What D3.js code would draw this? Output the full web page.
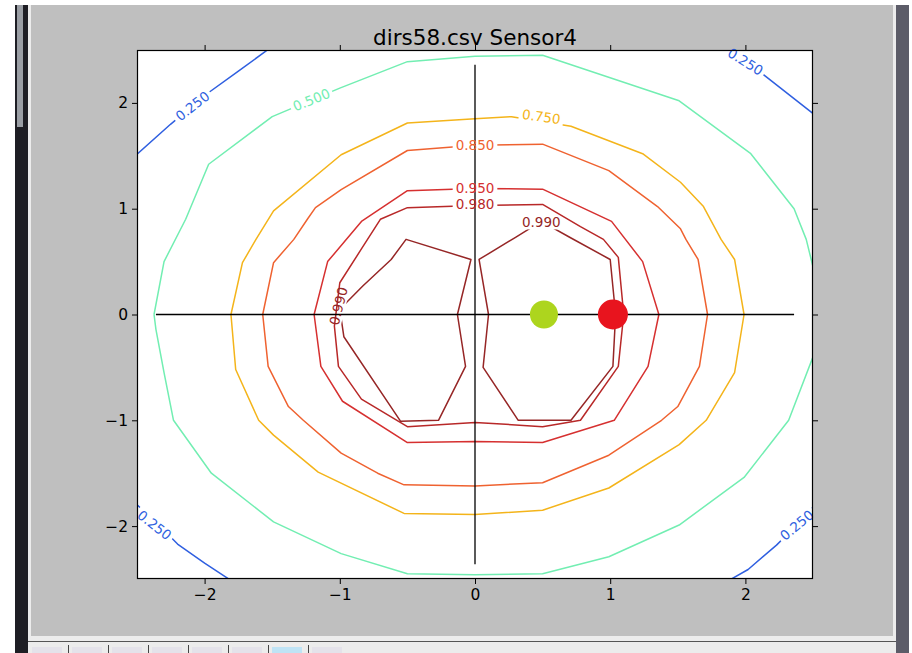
<!DOCTYPE html>
<html>
<head>
<meta charset="utf-8">
<script src="https://cdn.jsdelivr.net/npm/d3@7"></script>
<style>
  body { margin: 0; background: #ffffff; }
  svg { display: block; font-family: "DejaVu Sans", sans-serif; }
</style>
</head>
<body>
<svg id="chart" width="912" height="653"></svg>
<script>
// ---- data ----
const title = "dirs58.csv Sensor4";
const xTicks = [-2, -1, 0, 1, 2];
const yTicks = [-2, -1, 0, 1, 2];
const levels = [0.25, 0.5, 0.75, 0.85, 0.95, 0.98, 0.99];

// contour paths per level, in data units
const c250 = [
  [[-2.6, 1.40], [-2.25, 1.80], [-2.0, 2.07], [-1.75, 2.30], [-1.45, 2.58]],
  [[1.82, 2.58], [2.0, 2.40], [2.19, 2.21], [2.6, 1.80]],
  [[-2.6, -1.68], [-2.37, -1.95], [-2.2, -2.17], [-2.0, -2.35], [-1.75, -2.56]],
  [[1.8, -2.57], [2.02, -2.41], [2.23, -2.18], [2.38, -1.99], [2.6, -1.68]]
];
const c500 = [
  [[-2.374, 0], [-2.36, -0.14], [-2.30, -0.55], [-2.23, -1.0], [-1.95, -1.5], [-1.49, -1.96],
   [-0.99, -2.26], [-0.5, -2.45], [0, -2.46], [0.5, -2.45], [0.99, -2.29], [1.51, -1.99],
   [1.99, -1.54], [2.32, -1.0], [2.5, -0.4], [2.58, 0], [2.5, 0.45], [2.45, 0.71], [2.36, 1.0],
   [2.04, 1.52], [1.51, 2.02], [0.5, 2.45], [0, 2.44], [-0.5, 2.39], [-1.0, 2.14], [-1.5, 1.87],
   [-1.97, 1.42], [-2.14, 0.9], [-2.30, 0.5], [-2.374, 0]]
];
const c750 = [
  [[-1.805, 0], [-1.77, -0.52], [-1.60, -1.0], [-1.49, -1.14], [-1.16, -1.49], [-0.525, -1.88],
   [0, -1.89], [0.5, -1.85], [0.99, -1.64], [1.51, -1.23], [1.71, -1.0], [1.92, -0.55], [1.99, 0],
   [1.92, 0.52], [1.82, 0.71], [1.69, 1.02], [1.52, 1.25], [1.24, 1.52], [0.71, 1.78], [0.27, 1.87],
   [0, 1.85], [-0.5, 1.81], [-0.99, 1.51], [-1.49, 0.98], [-1.62, 0.71], [-1.72, 0.49], [-1.805, 0]]
];
const c850 = [
  [[-1.57, 0], [-1.53, -0.49], [-1.38, -0.87], [-1.27, -1.0], [-0.99, -1.31], [-0.72, -1.5],
   [-0.525, -1.61], [0, -1.62], [0.5, -1.59], [0.99, -1.33], [1.38, -1.0], [1.5, -0.87],
   [1.66, -0.49], [1.72, 0], [1.65, 0.52], [1.56, 0.71], [1.52, 0.81], [1.35, 1.02], [0.99, 1.36],
   [0.5, 1.61], [0, 1.60], [-0.5, 1.55], [-0.99, 1.18], [-1.18, 1.01], [-1.24, 0.9], [-1.34, 0.71],
   [-1.49, 0.49], [-1.57, 0]]
];
const c950 = [
  [[0, 1.19], [0.5, 1.185], [1.01, 0.88], [1.24, 0.5], [1.36, 0], [1.28, -0.49], [1.03, -1.0],
   [0.5, -1.21], [0, -1.20], [-0.5, -1.21], [-0.98, -0.82], [-1.14, -0.49], [-1.19, 0],
   [-1.09, 0.5], [-0.84, 0.88], [-0.5, 1.17], [0, 1.19]]
];
const c980 = [
  [[0, 1.03], [0.5, 1.04], [0.78, 0.83], [0.95, 0.71], [1.06, 0.54], [1.10, 0], [1.06, -0.49],
   [0.78, -1.0], [0.5, -1.06], [0, -1.02], [-0.5, -1.06], [-0.84, -0.8], [-1.01, -0.49],
   [-1.04, -0.11], [-1.0, 0.3], [-0.84, 0.62], [-0.7, 0.9], [-0.5, 1.01], [0, 1.03]]
];
const c990 = [
  [[0.49, 0.88], [0.7, 0.73], [1.0, 0.52], [1.04, 0], [1.02, -0.49], [0.71, -1.0], [0.51, -1.0],
   [0.32, -1.0], [0.06, -0.5], [0.10, 0], [0.03, 0.52], [0.3, 0.73], [0.49, 0.88]],
  [[-1.0, 0.05], [-0.83, 0.27], [-0.62, 0.52], [-0.51, 0.71], [-0.03, 0.52], [-0.13, 0],
   [-0.07, -0.49], [-0.27, -1.0], [-0.55, -1.01], [-0.97, -0.21], [-1.0, 0.05]]
];
const contourPaths = [c250, c500, c750, c850, c950, c980, c990];

// inline contour labels: level, x, y, angle (deg)
const labelLevel = [0.25, 0.25, 0.25, 0.25, 0.5, 0.75, 0.85, 0.95, 0.98, 0.99, 0.99];
const labelX = [-2.09, 2.0, -2.37, 2.38, -1.21, 0.49, 0, 0, 0, 0.49, -1.01];
const labelY = [1.97, 2.39, -1.99, -1.99, 2.03, 1.87, 1.60, 1.19, 1.04, 0.87, 0.08];
const labelAngle = [-38, 32, 38, -40, -22, 8, 0, 0, 0, 0, -76];

// sensor markers
const markerX = [0.51, 1.02];
const markerY = [0, 0];
const markerName = ["a", "b"];
const crossExtent = 2.36;

// ---- layout ----
const colors = ["#2f5fe0", "#72eeb2", "#f4b41a", "#ef6230", "#d63030", "#b82828", "#962626"];
const markerColors = ["#add51e", "#e8141e"];
const plot = { left: 137, right: 813, top: 50, bottom: 579 };

const svg = d3.select("#chart");

// window chrome
svg.append("rect").attr("x", 0).attr("y", 0).attr("width", 912).attr("height", 653).attr("fill", "#ffffff");
svg.append("rect").attr("x", 15).attr("y", 5).attr("width", 13).attr("height", 648).attr("fill", "#1e1e24");
svg.append("rect").attr("x", 17).attr("y", 5).attr("width", 6).attr("height", 122).attr("fill", "#9a9ea4");
svg.append("rect").attr("x", 896).attr("y", 5).attr("width", 13).attr("height", 648).attr("fill", "#5c5c68");
svg.append("rect").attr("x", 28).attr("y", 5).attr("width", 868).attr("height", 648).attr("fill", "#ececec");
svg.append("rect").attr("x", 31).attr("y", 5).attr("width", 862).attr("height", 631).attr("fill", "#bfbfbf");
svg.append("line").attr("x1", 28).attr("x2", 896).attr("y1", 641.5).attr("y2", 641.5).attr("stroke", "#555").attr("stroke-width", 1);
const btnX = d3.range(28, 310, 40);
svg.append("g").selectAll("line").data(btnX.slice(1)).join("line")
  .attr("x1", d => d + 0.5).attr("x2", d => d + 0.5).attr("y1", 645).attr("y2", 653)
  .attr("stroke", "#444").attr("stroke-width", 1);
svg.append("g").selectAll("rect").data(btnX).join("rect")
  .attr("x", d => d + 4).attr("y", 647).attr("width", 30).attr("height", 6)
  .attr("fill", (d, i) => i === 6 ? "#bfe3f5" : "#e4e2ea");

// scales
const x = d3.scaleLinear().domain([-2.5, 2.5]).range([plot.left, plot.right]);
const y = d3.scaleLinear().domain([-2.5, 2.5]).range([plot.bottom, plot.top]);

svg.append("rect")
  .attr("x", plot.left).attr("y", plot.top)
  .attr("width", plot.right - plot.left).attr("height", plot.bottom - plot.top)
  .attr("fill", "#ffffff");

const defs = svg.append("defs");
defs.append("clipPath").attr("id", "clip")
  .append("rect")
  .attr("x", plot.left).attr("y", plot.top)
  .attr("width", plot.right - plot.left).attr("height", plot.bottom - plot.top);

// labels first (hidden measure) to size masks
const labels = labelLevel.map((lv, i) => ({
  level: lv, x: labelX[i], y: labelY[i], angle: labelAngle[i], text: d3.format(".3f")(lv)
}));
const measure = svg.append("text").attr("font-size", 13.5).attr("visibility", "hidden");
labels.forEach(l => { measure.text(l.text); l.w = measure.node().getComputedTextLength(); });
measure.remove();

levels.forEach((lv, li) => {
  const m = defs.append("mask").attr("id", "mask" + li).attr("maskUnits", "userSpaceOnUse")
    .attr("x", 0).attr("y", 0).attr("width", 912).attr("height", 653);
  m.append("rect").attr("width", 912).attr("height", 653).attr("fill", "#fff");
  labels.filter(l => l.level === lv).forEach(l => {
    m.append("rect")
      .attr("x", -l.w / 2 - 3).attr("y", -7).attr("width", l.w + 6).attr("height", 14)
      .attr("fill", "#000")
      .attr("transform", `translate(${x(l.x)},${y(l.y)}) rotate(${l.angle})`);
  });
});

const line = d3.line().x(d => x(d[0])).y(d => y(d[1]));
const plotG = svg.append("g").attr("clip-path", "url(#clip)");

contourPaths.forEach((paths, li) => {
  plotG.append("g").attr("mask", `url(#mask${li})`)
    .selectAll("path").data(paths).join("path")
    .attr("d", line)
    .attr("fill", "none")
    .attr("stroke", colors[li])
    .attr("stroke-width", 1.5)
    .attr("stroke-linejoin", "round");
});

// cross lines
plotG.append("line")
  .attr("x1", x(-crossExtent)).attr("x2", x(crossExtent)).attr("y1", y(0)).attr("y2", y(0))
  .attr("stroke", "#000").attr("stroke-width", 1.3);
plotG.append("line")
  .attr("x1", x(0)).attr("x2", x(0)).attr("y1", y(crossExtent)).attr("y2", y(-crossExtent))
  .attr("stroke", "#000").attr("stroke-width", 1.3);

// markers
plotG.selectAll("circle.marker").data(markerName).join("circle")
  .attr("class", "marker")
  .attr("cx", (d, i) => x(markerX[i])).attr("cy", (d, i) => y(markerY[i]))
  .attr("r", (d, i) => i === 0 ? 14 : 15)
  .attr("fill", (d, i) => markerColors[i]);

// contour labels
svg.append("g").selectAll("text").data(labels).join("text")
  .attr("transform", l => `translate(${x(l.x)},${y(l.y)}) rotate(${l.angle})`)
  .attr("text-anchor", "middle").attr("dy", "0.36em")
  .attr("font-size", 13.5)
  .attr("fill", l => colors[levels.indexOf(l.level)])
  .text(l => l.text);

// axes
const fmt = d3.format("");
const styleAxis = g => {
  g.select(".domain").remove();
  g.selectAll(".tick line").attr("stroke", "#000");
  g.selectAll(".tick text").attr("font-size", 15.5).attr("fill", "#000").attr("font-family", "DejaVu Sans, sans-serif");
};
svg.append("g").attr("transform", `translate(0,${plot.bottom})`)
  .call(d3.axisBottom(x).tickValues(xTicks).tickFormat(fmt).tickSize(5).tickPadding(5)).call(styleAxis);
svg.append("g").attr("transform", `translate(0,${plot.top})`)
  .call(d3.axisTop(x).tickValues(xTicks).tickFormat("").tickSize(5)).call(styleAxis);
svg.append("g").attr("transform", `translate(${plot.left},0)`)
  .call(d3.axisLeft(y).tickValues(yTicks).tickFormat(fmt).tickSize(5).tickPadding(4)).call(styleAxis);
svg.append("g").attr("transform", `translate(${plot.right},0)`)
  .call(d3.axisRight(y).tickValues(yTicks).tickFormat("").tickSize(5)).call(styleAxis);

svg.append("rect")
  .attr("x", plot.left + 0.5).attr("y", plot.top + 0.5)
  .attr("width", plot.right - plot.left - 1).attr("height", plot.bottom - plot.top - 1)
  .attr("fill", "none").attr("stroke", "#000").attr("stroke-width", 1.2);

svg.append("text")
  .attr("x", (plot.left + plot.right) / 2).attr("y", 45)
  .attr("text-anchor", "middle").attr("font-size", 21.5).attr("fill", "#000")
  .text(title);
</script>
</body>
</html>
